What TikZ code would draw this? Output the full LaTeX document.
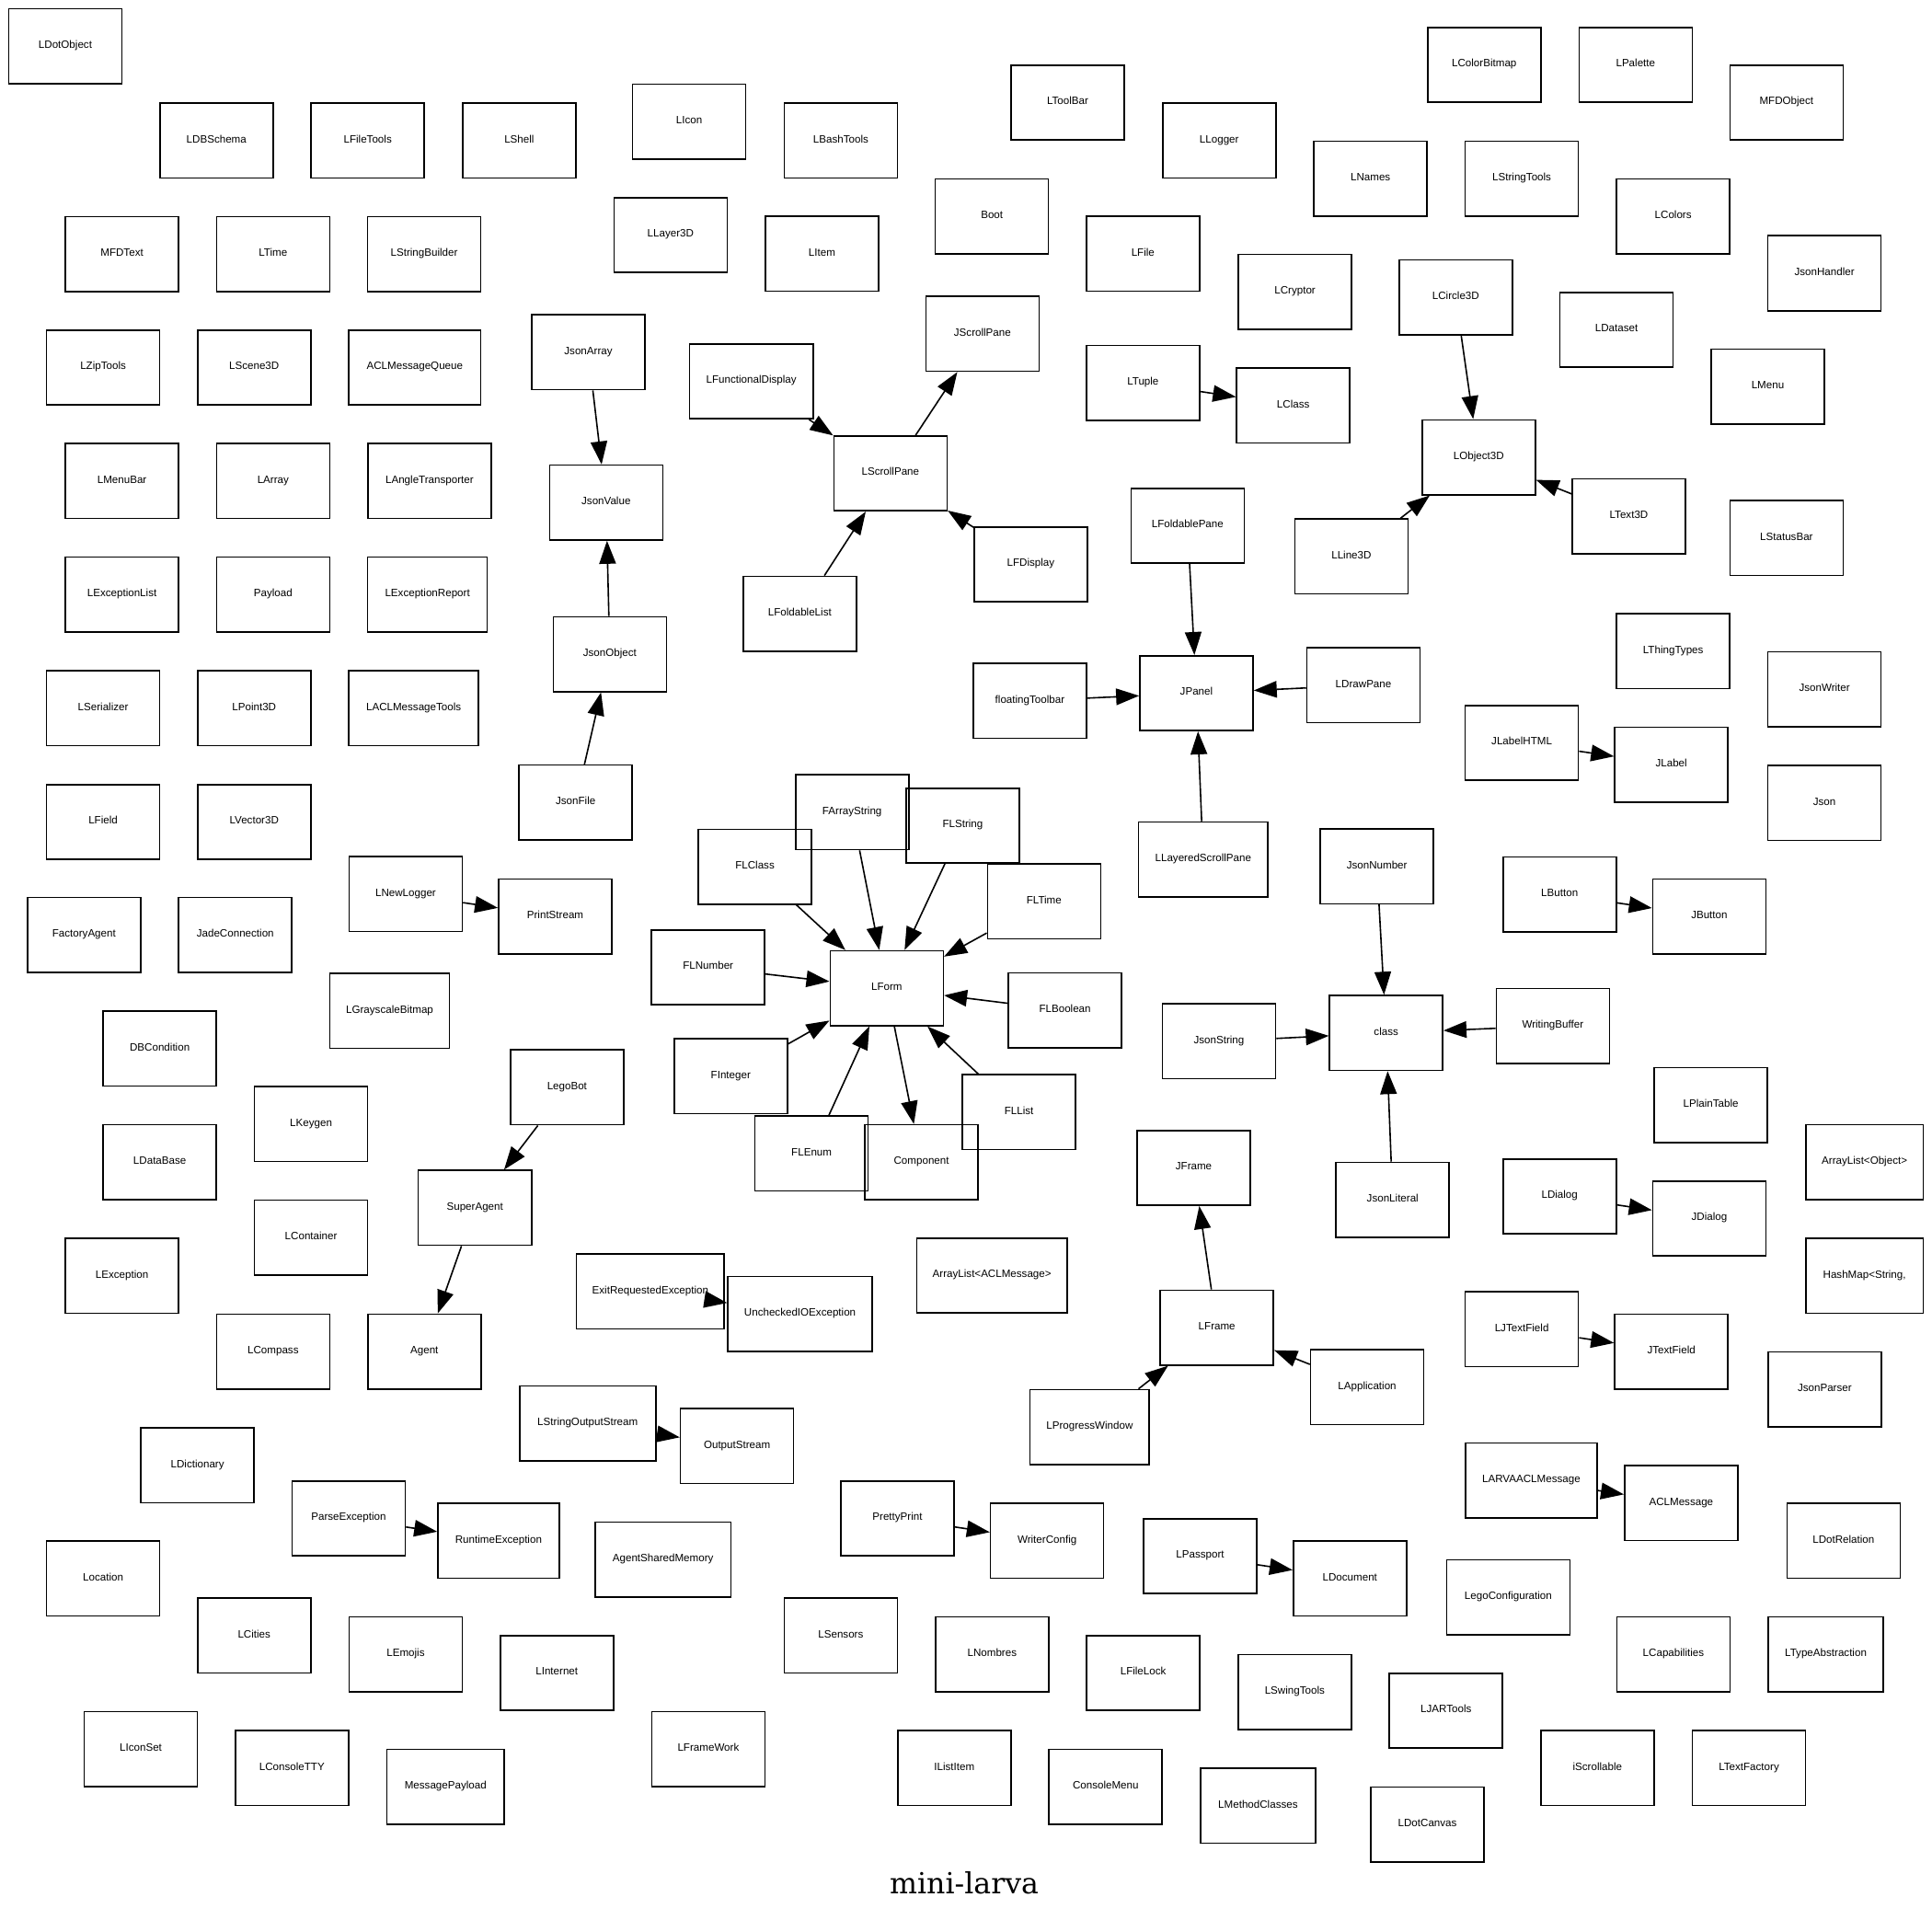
\documentclass[tikz,border=0pt]{standalone}
\usepackage{fontspec}
\setmainfont{Liberation Sans}
\newfontfamily\titlefont{DejaVu Serif}
\usetikzlibrary{arrows.meta}
\tikzset{
  cls/.style={draw, line width=0.8pt, minimum width=61.5pt, minimum height=40.7pt,
    inner sep=0pt, font=\fontsize{5.8pt}{7pt}\selectfont, text height=4.2pt, text depth=1.8pt},
  wd/.style={minimum width=#1*0.6695pt-0.6pt},
  inh/.style={line width=0.8pt, -{Triangle[length=12.5pt,width=9pt]}}
}
\begin{document}
\begin{tikzpicture}[x=0.6695pt,y=-0.6695pt]
\useasboundingbox (0,0) rectangle (1568.3,1557.9);
\node[cls] (LDotObject) at (53,37.5) {LDotObject};
\node[cls] (LDBSchema) at (175.7,114.2) {LDBSchema};
\node[cls] (LFileTools) at (298.5,114.2) {LFileTools};
\node[cls] (LShell) at (421.5,114.2) {LShell};
\node[cls] (LIcon) at (559.4,98.8) {LIcon};
\node[cls] (LBashTools) at (682.5,114.2) {LBashTools};
\node[cls] (LToolBar) at (866.7,83.2) {LToolBar};
\node[cls] (LLogger) at (989.7,114.2) {LLogger};
\node[cls] (LColorBitmap) at (1204.8,52.7) {LColorBitmap};
\node[cls] (LPalette) at (1327.7,52.7) {LPalette};
\node[cls] (MFDObject) at (1450.2,83.3) {MFDObject};
\node[cls] (LNames) at (1112.5,145) {LNames};
\node[cls] (LStringTools) at (1235.3,145) {LStringTools};
\node[cls] (LColors) at (1358.2,175.5) {LColors};
\node[cls] (JsonHandler) at (1481,221.8) {JsonHandler};
\node[cls] (MFDText) at (99,206.3) {MFDText};
\node[cls] (LTime) at (221.7,206.3) {LTime};
\node[cls] (LStringBuilder) at (344.3,206.3) {LStringBuilder};
\node[cls] (LLayer3D) at (544.3,190.8) {LLayer3D};
\node[cls] (LItem) at (667.2,206) {LItem};
\node[cls] (Boot) at (805.2,175.7) {Boot};
\node[cls] (LFile) at (927.8,206) {LFile};
\node[cls] (LCryptor) at (1051.2,237) {LCryptor};
\node[cls] (LCircle3D) at (1181.7,241.5) {LCircle3D};
\node[cls] (LDataset) at (1312.2,267.8) {LDataset};
\node[cls] (LMenu) at (1435,313.8) {LMenu};
\node[cls] (LZipTools) at (83.7,298.3) {LZipTools};
\node[cls] (LScene3D) at (206.3,298.3) {LScene3D};
\node[cls,wd=108] (ACLMessageQueue) at (336.7,298.3) {ACLMessageQueue};
\node[cls] (JsonArray) at (477.6,286) {JsonArray};
\node[cls] (JScrollPane) at (797.5,271) {JScrollPane};
\node[cls,wd=101] (LFunctionalDisplay) at (609.9,309.5) {LFunctionalDisplay};
\node[cls] (LTuple) at (927.8,310.8) {LTuple};
\node[cls] (LClass) at (1049.8,329.2) {LClass};
\node[cls] (LObject3D) at (1200.3,371.2) {LObject3D};
\node[cls] (LMenuBar) at (99,390.5) {LMenuBar};
\node[cls] (LArray) at (221.7,390.5) {LArray};
\node[cls,wd=101.3] (LAngleTransporter) at (348.7,390.5) {LAngleTransporter};
\node[cls] (JsonValue) at (492,408) {JsonValue};
\node[cls] (LScrollPane) at (722.8,384.3) {LScrollPane};
\node[cls] (LFoldablePane) at (964,426.8) {LFoldablePane};
\node[cls] (LLine3D) at (1097,451.8) {LLine3D};
\node[cls] (LText3D) at (1322.2,419.2) {LText3D};
\node[cls] (LStatusBar) at (1450.2,436.8) {LStatusBar};
\node[cls] (LExceptionList) at (99,482.7) {LExceptionList};
\node[cls] (Payload) at (221.7,482.7) {Payload};
\node[cls,wd=98] (LExceptionReport) at (347,482.7) {LExceptionReport};
\node[cls] (JsonObject) at (495,531) {JsonObject};
\node[cls] (LFDisplay) at (836.7,458.2) {LFDisplay};
\node[cls] (LFoldableList) at (649.2,498.2) {LFoldableList};
\node[cls] (LThingTypes) at (1358.2,528.5) {LThingTypes};
\node[cls] (JsonWriter) at (1481,559.5) {JsonWriter};
\node[cls] (LSerializer) at (83.7,575) {LSerializer};
\node[cls] (LPoint3D) at (206.3,575) {LPoint3D};
\node[cls,wd=106.3] (LACLMessageTools) at (335.8,575) {LACLMessageTools};
\node[cls] (floatingToolbar) at (836,568.8) {floatingToolbar};
\node[cls] (JPanel) at (971.2,562.7) {JPanel};
\node[cls] (LDrawPane) at (1106.8,556.2) {LDrawPane};
\node[cls] (JLabelHTML) at (1235.3,603) {JLabelHTML};
\node[cls] (JLabel) at (1356.7,620.8) {JLabel};
\node[cls] (Json) at (1481,651.7) {Json};
\node[cls] (LField) at (83.7,667.2) {LField};
\node[cls] (LVector3D) at (206.3,667.2) {LVector3D};
\node[cls] (JsonFile) at (467.3,651.5) {JsonFile};
\node[cls] (FArrayString) at (691.7,659.3) {FArrayString};
\node[cls] (FLString) at (781.5,670.2) {FLString};
\node[cls] (FLClass) at (612.8,703.5) {FLClass};
\node[cls,wd=106] (LLayeredScrollPane) at (976.7,697.7) {LLayeredScrollPane};
\node[cls] (JsonNumber) at (1117.7,703.2) {JsonNumber};
\node[cls] (LButton) at (1266,726) {LButton};
\node[cls] (JButton) at (1387.5,744) {JButton};
\node[cls] (FactoryAgent) at (68.2,759) {FactoryAgent};
\node[cls] (JadeConnection) at (191,759) {JadeConnection};
\node[cls] (LNewLogger) at (329.3,725.7) {LNewLogger};
\node[cls] (PrintStream) at (450.7,744) {PrintStream};
\node[cls] (FLTime) at (847.5,731.7) {FLTime};
\node[cls] (FLNumber) at (574.8,785.2) {FLNumber};
\node[cls] (LForm) at (719.8,802.2) {LForm};
\node[cls] (FLBoolean) at (864.5,820.2) {FLBoolean};
\node[cls] (JsonString) at (989.5,845.3) {JsonString};
\node[cls] (class) at (1125.2,838.5) {class};
\node[cls] (WritingBuffer) at (1260.5,832.8) {WritingBuffer};
\node[cls,wd=98] (LGrayscaleBitmap) at (316.3,820.5) {LGrayscaleBitmap};
\node[cls] (DBCondition) at (129.7,851.3) {DBCondition};
\node[cls] (LegoBot) at (460.3,882.7) {LegoBot};
\node[cls] (FInteger) at (593.2,873.7) {FInteger};
\node[cls] (FLList) at (827.2,902.8) {FLList};
\node[cls] (LPlainTable) at (1388.8,897.2) {LPlainTable};
\node[cls] (LKeygen) at (252.5,912.5) {LKeygen};
\node[cls] (FLEnum) at (658.8,936.2) {FLEnum};
\node[cls] (Component) at (748,943.5) {Component};
\node[cls] (JFrame) at (969,948) {JFrame};
\node[cls] (JsonLiteral) at (1130.5,974) {JsonLiteral};
\node[cls] (LDialog) at (1266,971.2) {LDialog};
\node[cls] (JDialog) at (1387.5,989.2) {JDialog};
\node[cls,wd=96] (ArrayListObject) at (1513.5,943.5) {ArrayList<Object>};
\node[cls] (LDataBase) at (129.7,943.5) {LDataBase};
\node[cls] (LContainer) at (252.5,1004.5) {LContainer};
\node[cls] (SuperAgent) at (385.5,980.5) {SuperAgent};
\node[cls] (LException) at (99,1035.6) {LException};
\node[cls,wd=121] (ExitRequestedException) at (527.9,1048.3) {ExitRequestedException};
\node[cls,wd=118] (UncheckedIOException) at (649.4,1066.5) {UncheckedIOException};
\node[cls,wd=123] (ArrayListACLMessage) at (805.2,1035.4) {ArrayList<ACLMessage>};
\node[cls] (LFrame) at (987.8,1077.7) {LFrame};
\node[cls,wd=96] (HashMapString) at (1513.5,1035.8) {HashMap<String,};
\node[cls] (LJTextField) at (1235.3,1079) {LJTextField};
\node[cls] (JTextField) at (1356.7,1097.1) {JTextField};
\node[cls] (JsonParser) at (1481.2,1127.8) {JsonParser};
\node[cls] (LCompass) at (221.7,1097.1) {LCompass};
\node[cls] (Agent) at (344.5,1097.1) {Agent};
\node[cls] (LApplication) at (1109.8,1125.9) {LApplication};
\node[cls,wd=111.4] (LStringOutputStream) at (477,1155.6) {LStringOutputStream};
\node[cls] (OutputStream) at (598.3,1173.7) {OutputStream};
\node[cls,wd=97.7] (LProgressWindow) at (884.5,1158.4) {LProgressWindow};
\node[cls] (LDictionary) at (160.3,1189.4) {LDictionary};
\node[cls,wd=107.6] (LARVAACLMessage) at (1243,1201.9) {LARVAACLMessage};
\node[cls] (ACLMessage) at (1364.7,1220) {ACLMessage};
\node[cls] (ParseException) at (283,1232.6) {ParseException};
\node[cls,wd=99.3] (RuntimeException) at (404.7,1250.8) {RuntimeException};
\node[cls,wd=111] (AgentSharedMemory) at (538.2,1266) {AgentSharedMemory};
\node[cls] (PrettyPrint) at (728.5,1232.6) {PrettyPrint};
\node[cls] (WriterConfig) at (850,1250.7) {WriterConfig};
\node[cls] (LPassport) at (974.2,1263.2) {LPassport};
\node[cls] (LDocument) at (1095.8,1281.5) {LDocument};
\node[cls,wd=101] (LegoConfiguration) at (1224.3,1296.7) {LegoConfiguration};
\node[cls] (LDotRelation) at (1496.5,1250.7) {LDotRelation};
\node[cls] (Location) at (83.7,1281.5) {Location};
\node[cls] (LCities) at (206.3,1327.6) {LCities};
\node[cls] (LEmojis) at (329.3,1342.9) {LEmojis};
\node[cls] (LInternet) at (452,1358.1) {LInternet};
\node[cls] (LSensors) at (682.5,1327.6) {LSensors};
\node[cls] (LNombres) at (805.3,1342.9) {LNombres};
\node[cls] (LFileLock) at (928,1358.1) {LFileLock};
\node[cls] (LSwingTools) at (1051,1373.4) {LSwingTools};
\node[cls] (LJARTools) at (1173.8,1388.7) {LJARTools};
\node[cls] (LCapabilities) at (1358.4,1342.8) {LCapabilities};
\node[cls,wd=94.4] (LTypeAbstraction) at (1482.1,1342.8) {LTypeAbstraction};
\node[cls] (LIconSet) at (114.3,1419.7) {LIconSet};
\node[cls] (LConsoleTTY) at (237,1435.1) {LConsoleTTY};
\node[cls,wd=96] (MessagePayload) at (361.7,1450.4) {MessagePayload};
\node[cls] (LFrameWork) at (575,1419.7) {LFrameWork};
\node[cls] (IListItem) at (774.7,1435.1) {IListItem};
\node[cls] (ConsoleMenu) at (897.5,1450.4) {ConsoleMenu};
\node[cls,wd=94.5] (LMethodClasses) at (1021.2,1465.8) {LMethodClasses};
\node[cls] (LDotCanvas) at (1158.7,1481.2) {LDotCanvas};
\node[cls] (iScrollable) at (1296.7,1435.1) {iScrollable};
\node[cls] (LTextFactory) at (1419.7,1435.1) {LTextFactory};
% edges
\draw[inh] (JsonArray) -- (JsonValue);
\draw[inh] (JsonObject) -- (JsonValue);
\draw[inh] (JsonFile) -- (JsonObject);
\draw[inh] (LFunctionalDisplay) -- (LScrollPane);
\draw[inh] (LScrollPane) -- (JScrollPane);
\draw[inh] (LFoldableList) -- (LScrollPane);
\draw[inh] (LFDisplay) -- (LScrollPane);
\draw[inh] (LTuple) -- (LClass);
\draw[inh] (LCircle3D) -- (LObject3D);
\draw[inh] (LLine3D) -- (LObject3D);
\draw[inh] (LText3D) -- (LObject3D);
\draw[inh] (LFoldablePane) -- (JPanel);
\draw[inh] (floatingToolbar) -- (JPanel);
\draw[inh] (LDrawPane) -- (JPanel);
\draw[inh] (LLayeredScrollPane) -- (JPanel);
\draw[inh] (JLabelHTML) -- (JLabel);
\draw[inh] (LNewLogger) -- (PrintStream);
\draw[inh] (FArrayString) -- (LForm);
\draw[inh] (FLString) -- (LForm);
\draw[inh] (FLClass) -- (LForm);
\draw[inh] (FLTime) -- (LForm);
\draw[inh] (FLNumber) -- (LForm);
\draw[inh] (FLBoolean) -- (LForm);
\draw[inh] (FInteger) -- (LForm);
\draw[inh] (FLEnum) -- (LForm);
\draw[inh] (FLList) -- (LForm);
\draw[inh] (LForm) -- (Component);
\draw[inh] (JsonNumber) -- (class);
\draw[inh] (JsonString) -- (class);
\draw[inh] (WritingBuffer) -- (class);
\draw[inh] (JsonLiteral) -- (class);
\draw[inh] (LButton) -- (JButton);
\draw[inh] (LDialog) -- (JDialog);
\draw[inh] (LegoBot) -- (SuperAgent);
\draw[inh] (SuperAgent) -- (Agent);
\draw[inh] (ExitRequestedException) -- (UncheckedIOException);
\draw[inh] (LFrame) -- (JFrame);
\draw[inh] (LProgressWindow) -- (LFrame);
\draw[inh] (LApplication) -- (LFrame);
\draw[inh] (LJTextField) -- (JTextField);
\draw[inh] (LStringOutputStream) -- (OutputStream);
\draw[inh] (LARVAACLMessage) -- (ACLMessage);
\draw[inh] (ParseException) -- (RuntimeException);
\draw[inh] (PrettyPrint) -- (WriterConfig);
\draw[inh] (LPassport) -- (LDocument);
% title
\node[anchor=base, inner sep=0pt, font=\titlefont\fontsize{15.8pt}{18pt}\selectfont] (title) at (782.7,1537.5) {mini-larva};
\end{tikzpicture}
\end{document}
